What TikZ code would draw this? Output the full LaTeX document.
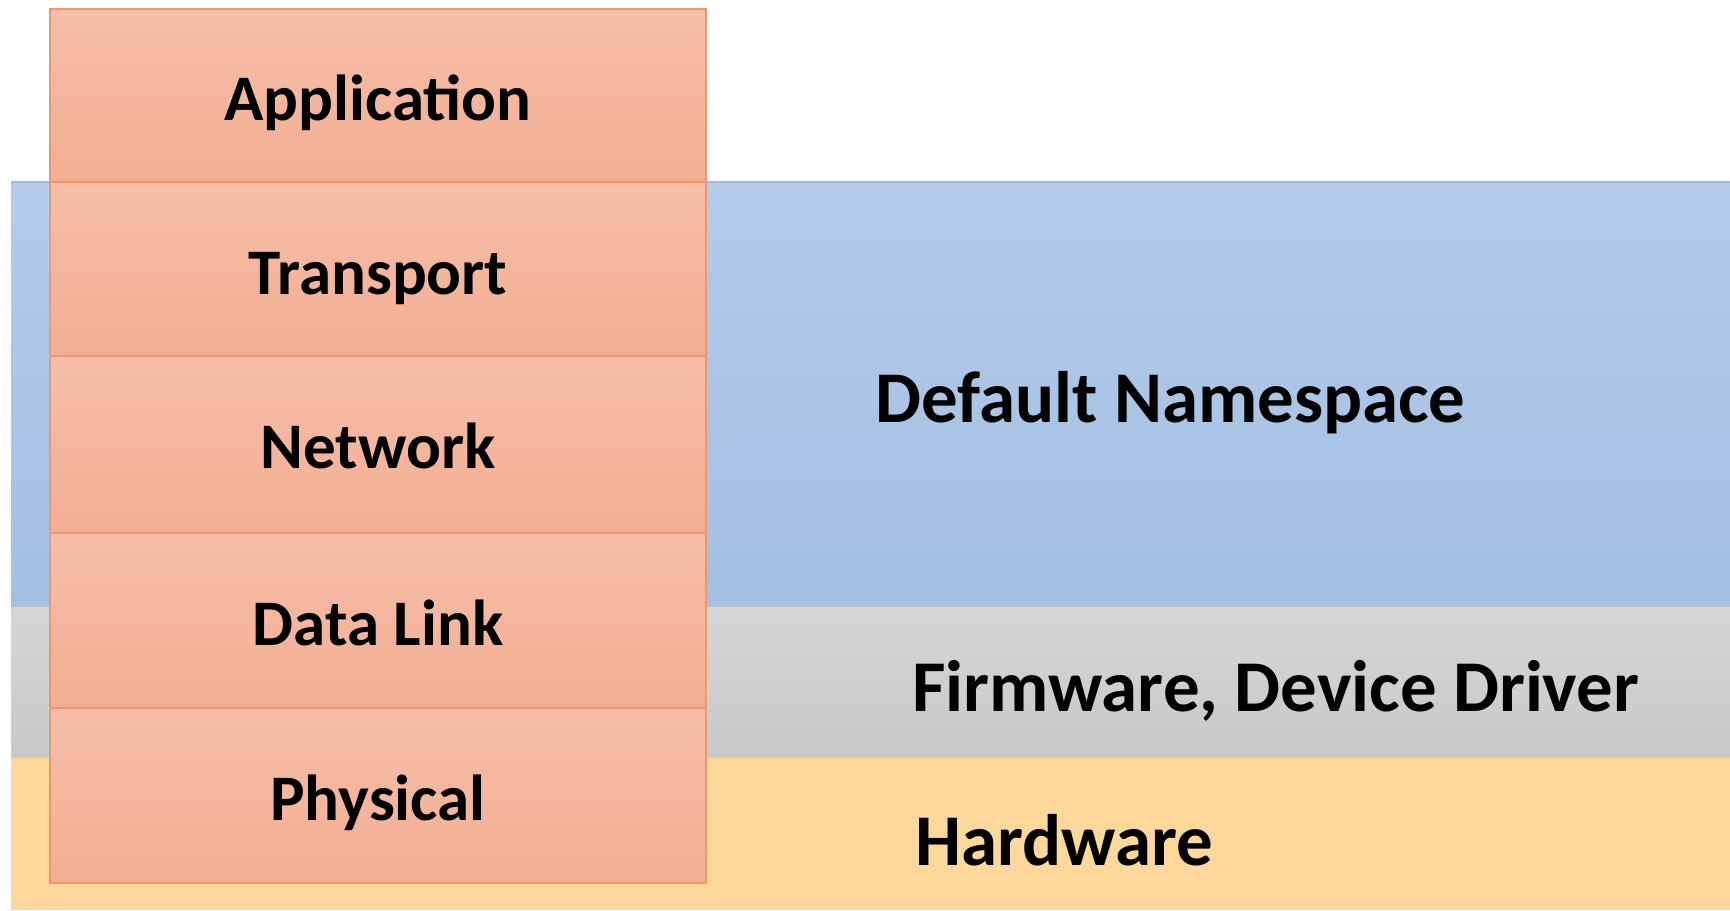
\documentclass[tikz,border=0pt]{standalone}
\usepackage{fontspec}
\setmainfont{Carlito}
\definecolor{nsTop}{RGB}{180,203,233}
\definecolor{nsBot}{RGB}{163,191,228}
\definecolor{nsLine}{RGB}{160,186,222}
\definecolor{fwTop}{RGB}{214,214,214}
\definecolor{fwBot}{RGB}{200,200,200}
\definecolor{fwLine}{RGB}{190,190,190}
\definecolor{hwFill}{RGB}{253,216,154}
\definecolor{hwLine}{RGB}{248,205,120}
\definecolor{lyTop}{RGB}{246,190,168}
\definecolor{lyBot}{RGB}{242,174,146}
\definecolor{lyLine}{RGB}{238,150,110}
\tikzset{
  band/.style={line width=0.8pt},
  layerbox/.style={top color=lyTop, bottom color=lyBot, draw=lyLine, line width=1.2pt},
  layertext/.style={font=\bfseries\fontsize{37}{44}\selectfont, anchor=base, inner sep=0pt},
  bandtext/.style={font=\bfseries\fontsize{41.5}{48}\selectfont, anchor=base west, inner sep=0pt},
}
\begin{document}
\begin{tikzpicture}[x=0.02cm, y=-0.02cm]
  \useasboundingbox (0,0) rectangle (1730,910);
  \fill[white] (0,0) rectangle (1730,910);

  % horizontal bands: namespace, firmware, hardware
  \shade[top color=nsTop, bottom color=nsBot] (11,182) rectangle (1730,606);
  \draw[nsLine, band] (11,182) -- (1730,182);
  \shade[top color=fwTop, bottom color=fwBot] (11,606) rectangle (1730,758);
  \draw[fwLine, band] (11,606) -- (1730,606);
  \fill[hwFill] (11,758) rectangle (1730,910);
  \draw[hwLine, band] (11,758) -- (1730,758);

  % protocol stack
  \path[layerbox] (49.6,8.8) rectangle (706,182);
  \path[layerbox] (49.6,182) rectangle (706,356);
  \path[layerbox] (49.6,356) rectangle (706,533);
  \path[layerbox] (49.6,533) rectangle (706,708);
  \path[layerbox] (49.6,708) rectangle (706,883);

  \node[layertext] (app) at (378,120) {Application};
  \node[layertext] (trn) at (378,294) {Transport};
  \node[layertext] (net) at (378,468) {Network};
  \node[layertext] (dlk) at (378,645) {Data Link};
  \node[layertext] (phy) at (378,820) {Physical};

  \node[bandtext] (ns) at (875,422) {Default Namespace};
  \node[bandtext] (fw) at (912,711) {Firmware, Device Driver};
  \node[bandtext] (hw) at (915,865) {Hardware};
\end{tikzpicture}
\end{document}
